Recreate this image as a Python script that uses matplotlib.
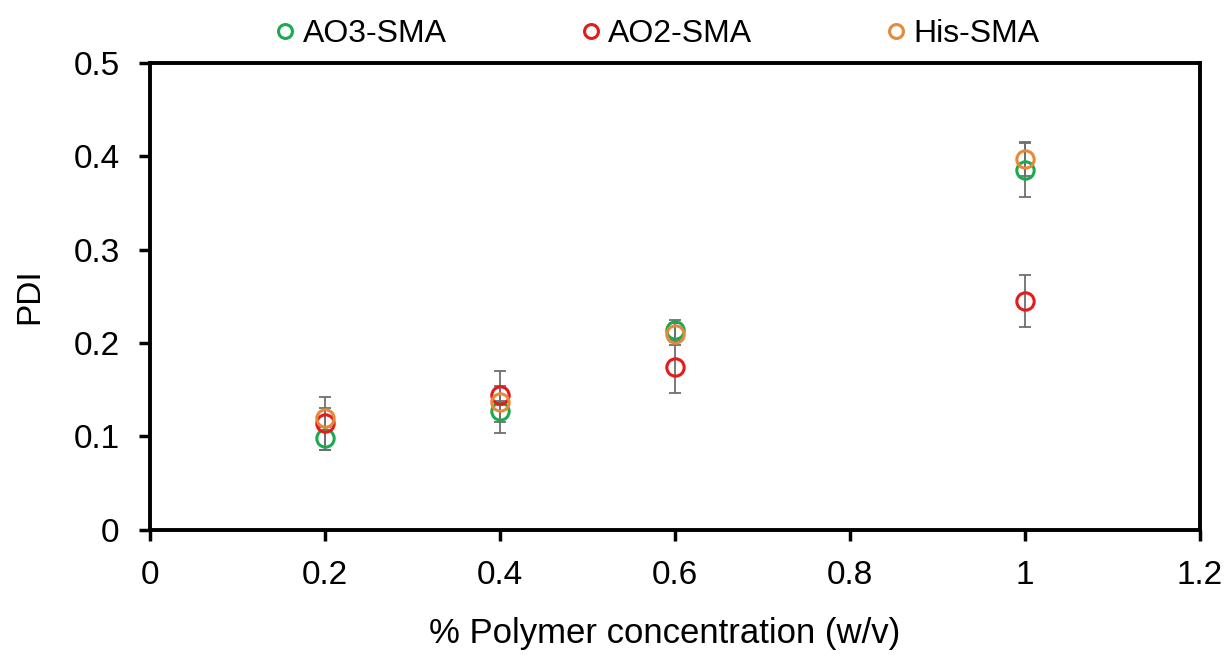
import matplotlib
matplotlib.use("Agg")
import matplotlib.pyplot as plt

plt.rcParams['font.family'] = ['Liberation Sans', 'DejaVu Sans']

conc = [0.2, 0.4, 0.6, 1.0]
series_names = ["AO3-SMA", "AO2-SMA", "His-SMA"]
ao3 = [0.098, 0.127, 0.214, 0.385]
ao3_err = [0.012, 0.011, 0.011, 0.029]
ao2 = [0.114, 0.144, 0.174, 0.245]
ao2_err = [0.028, 0.010, 0.027, 0.028]
his = [0.120, 0.137, 0.210, 0.397]
his_err = [0.010, 0.033, 0.012, 0.018]
colors = ["#1aaa50", "#e41a1c", "#e8893a"]

xticks = [0, 0.2, 0.4, 0.6, 0.8, 1.0, 1.2]
xtick_labels = ["0", "0.2", "0.4", "0.6", "0.8", "1", "1.2"]
yticks = [0, 0.1, 0.2, 0.3, 0.4, 0.5]
ytick_labels = ["0", "0.1", "0.2", "0.3", "0.4", "0.5"]

fig = plt.figure(figsize=(12.28, 6.55), dpi=100)
ax = fig.add_axes([0.1222, 0.191, 0.855, 0.713])

handles = []
for vals, errs, c, name, z in zip([ao3, ao2, his], [ao3_err, ao2_err, his_err], colors, series_names, [3, 4, 5]):
    ax.errorbar(conc, vals, yerr=errs, fmt='none', ecolor='#6e6e6e', elinewidth=1.3,
                capsize=4, capthick=1.3, zorder=2)
    h, = ax.plot(conc, vals, 'o', mfc='none', mec=c, mew=2.2, ms=12.5, zorder=z, label=name)
    handles.append(h)

ax.set_xlim(0, 1.2)
ax.set_ylim(0, 0.5)
ax.set_xticks(xticks)
ax.set_xticklabels(xtick_labels)
ax.set_yticks(yticks)
ax.set_yticklabels(ytick_labels)
ax.tick_params(axis='both', direction='out', length=8, width=2.5, labelsize=24, pad=14)
for sp in ax.spines.values():
    sp.set_linewidth(2.8)
ax.set_xlabel("% Polymer concentration (w/v)", fontsize=25)
ax.xaxis.set_label_coords(0.49, -0.187)
ax.set_ylabel("PDI", fontsize=24, labelpad=20)

leg = fig.legend(handles=handles, loc='upper center', bbox_to_anchor=(0.533, 1.015), ncol=3,
                 frameon=False, fontsize=23, handletextpad=0.05, columnspacing=4.0,
                 markerscale=0.8, handlelength=1.0)

fig.savefig("out.png", dpi=100)
